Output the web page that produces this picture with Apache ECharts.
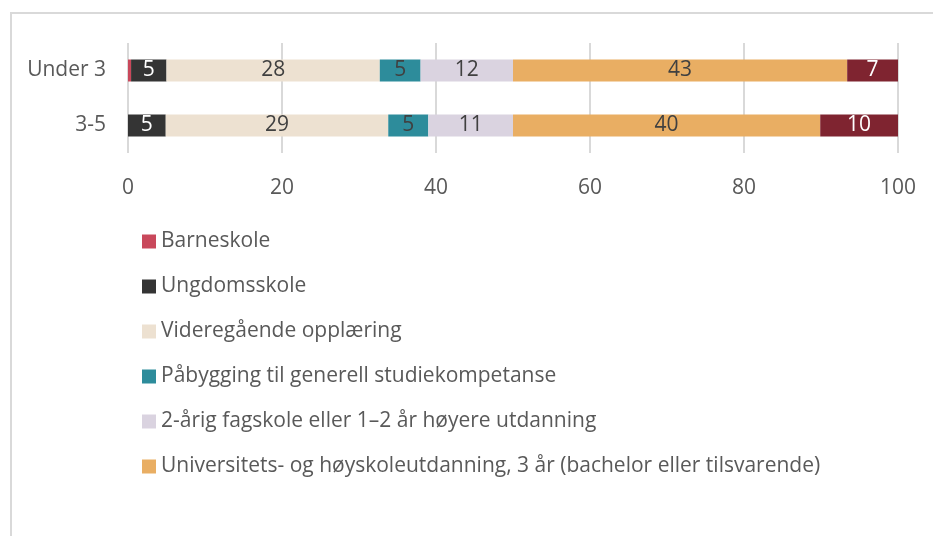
<!DOCTYPE html>
<html>
<head>
<meta charset="utf-8">
<script src="https://cdn.jsdelivr.net/npm/echarts@6/dist/echarts.min.js"></script>
<style>
  html, body { margin: 0; padding: 0; background: #fff; overflow: hidden; }
  #frame { position: absolute; left: 10px; top: 12px; width: 1000px; height: 600px;
           border: 2px solid #d9d9d9; box-sizing: border-box; }
  #main { position: absolute; left: 0; top: 0; width: 933px; height: 536px; }
</style>
</head>
<body>
<div id="frame"></div>
<div id="main"></div>
<script>
// categories (top to bottom)
var ageGroups = ['Under 3', '3-5'];

var seriesNames = [
  'Barneskole',
  'Ungdomsskole',
  'Videregående opplæring',
  'Påbygging til generell studiekompetanse',
  '2-årig fagskole eller 1–2 år høyere utdanning',
  'Universitets- og høyskoleutdanning, 3 år (bachelor eller tilsvarende)',
  'Universitets- og høyskoleutdanning, 4 år eller mer (master eller tilsvarende)'
];

// values per series, [Under 3, 3-5]
var barneskole   = [0.4, 0];
var ungdomsskole = [4.6, 4.9];
var videregaende = [27.7, 28.9];
var pabygging    = [5.3, 5.2];
var fagskole     = [12.0, 11.0];
var bachelor     = [43.4, 39.9];
var master       = [6.6, 10.1];

var seriesValues = [barneskole, ungdomsskole, videregaende, pabygging, fagskole, bachelor, master];
var colors = ['#c9485b', '#343434', '#ede1d1', '#2d8c9b', '#dad3e0', '#e9ae63', '#7f2430'];
var labelColors = ['#ffffff', '#ffffff', '#404040', '#404040', '#404040', '#404040', '#ffffff'];

var font = '"Open Sans", "Liberation Sans", sans-serif';

var series = seriesNames.map(function (name, i) {
  return {
    name: name,
    type: 'bar',
    stack: 'total',
    barWidth: '40%',
    data: seriesValues[i],
    itemStyle: { color: colors[i] },
    label: {
      show: true,
      position: 'inside',
      color: labelColors[i],
      fontFamily: font,
      fontSize: 21,
      formatter: function (p) {
        return p.value < 1 ? '' : Math.round(p.value);
      }
    }
  };
});

var chart = echarts.init(document.getElementById('main'));
chart.setOption({
  animation: false,
  grid: { left: 128, right: 35, top: 43, height: 110 },
  xAxis: {
    type: 'value',
    min: 0,
    max: 100,
    interval: 20,
    axisLine: { show: false },
    axisTick: { show: false },
    splitLine: { lineStyle: { color: '#d9d9d9', width: 2 } },
    axisLabel: { color: '#595959', fontFamily: font, fontSize: 21, margin: 25 }
  },
  yAxis: {
    type: 'category',
    inverse: true,
    data: ageGroups,
    axisLine: { show: false },
    axisTick: { show: false },
    axisLabel: { color: '#595959', fontFamily: font, fontSize: 21, margin: 22 }
  },
  legend: {
    orient: 'vertical',
    left: 137,
    top: 226,
    data: seriesNames.slice(0, 6),
    icon: 'rect',
    itemWidth: 14,
    itemHeight: 14,
    itemGap: 24,
    textStyle: { color: '#595959', fontFamily: font, fontSize: 21, lineHeight: 20 }
  },
  series: series
});
</script>
</body>
</html>
